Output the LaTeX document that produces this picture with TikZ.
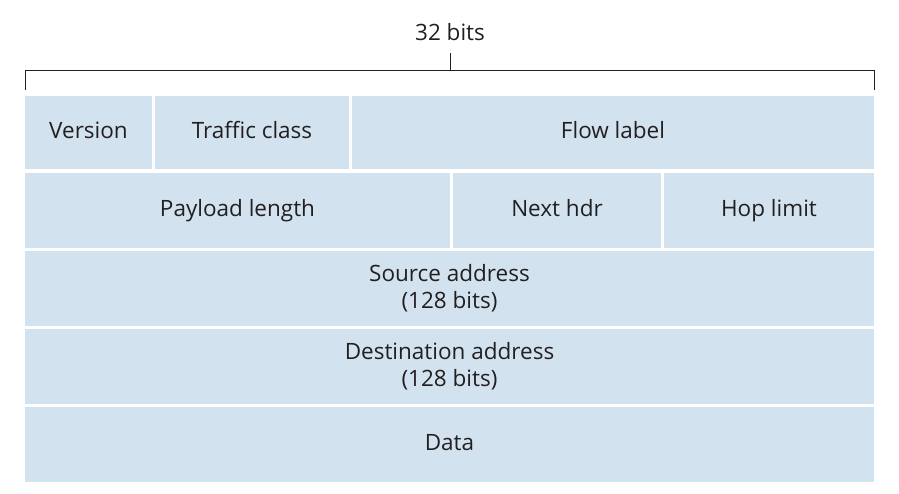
\documentclass[tikz,border=0pt]{standalone}
\usepackage{fontspec}
\setmainfont{Open Sans}
\definecolor{cellblue}{RGB}{210,227,239}
\definecolor{txt}{RGB}{35,31,32}
\begin{document}
\begin{tikzpicture}[x=1pt,y=-1pt,
  cell/.style={fill=cellblue,draw=none,inner sep=0pt,text=txt,align=center,font=\fontsize{22.5}{27}\selectfont},
  one/.style={text height=16pt,text depth=5pt},
  brace/.style={draw=txt,line width=0.9pt}]
\useasboundingbox (0,0) rectangle (899,493);
\newcommand{\cellbox}[7]{\fill[cellblue] (#1,#2) rectangle (#3,#4);
  \node[cell,#7] (#5) at ({(#1+#3)/2},{(#2+#4)/2}) {#6};}
\cellbox{25}{96}{152}{169}{ver}{Version}{one}
\cellbox{155}{96}{349}{169}{tc}{Traffic class}{one}
\cellbox{352}{96}{874}{169}{fl}{Flow label}{one}
\cellbox{25}{173}{450}{248}{pl}{Payload length}{one}
\cellbox{453}{173}{661}{248}{nh}{Next hdr}{one}
\cellbox{664}{173}{874}{248}{hl}{Hop limit}{one}
\cellbox{25}{251}{874}{326}{src}{Source address\\(128 bits)}{}
\cellbox{25}{329}{874}{404}{dst}{Destination address\\(128 bits)}{}
\cellbox{25}{407}{874}{482}{data}{Data}{one}
\coordinate (bl) at (25,90);
\coordinate (br) at (874,90);
\coordinate (bc) at (450,53);
\draw[brace] (bl) -- (25,70) -- (874,70) -- (br);
\draw[brace] (450,70) -- (bc);
\node[text=txt,font=\fontsize{22.5}{27}\selectfont,one] (lbl) at (450,35) {32 bits};
\end{tikzpicture}
\end{document}
